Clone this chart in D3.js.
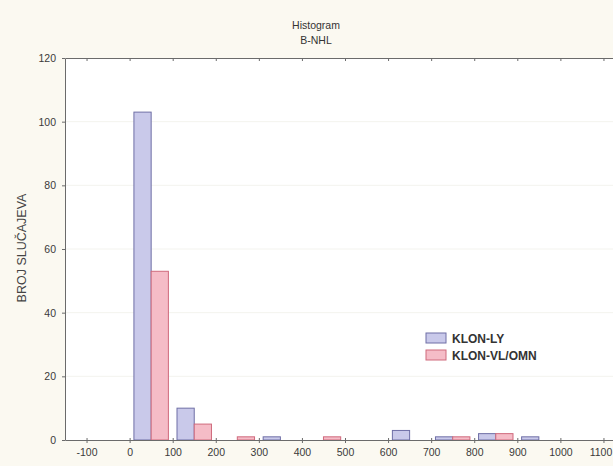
<!DOCTYPE html>
<html>
<head>
<meta charset="utf-8">
<script src="https://cdn.jsdelivr.net/npm/d3@7"></script>
<style>
  body { margin: 0; background: #fbf9f1; }
  text { font-family: "Liberation Sans", Arial, sans-serif; }
</style>
</head>
<body>
<div id="chart"></div>
<script>
// histogram bins (lower edge), width 100
var bins = [0, 100, 200, 300, 400, 500, 600, 700, 800, 900, 1000];
var klonLy = [103, 10, 0, 1, 0, 0, 3, 1, 2, 1, 0];
var klonVl = [53, 5, 1, 0, 1, 0, 0, 1, 2, 0, 0];
var xTicks = [-100, 0, 100, 200, 300, 400, 500, 600, 700, 800, 900, 1000, 1100];
var yTicks = [0, 20, 40, 60, 80, 100, 120];
var seriesNames = ["KLON-LY", "KLON-VL/OMN"];

var width = 613, height = 466;
var margin = {top: 58, right: -12, bottom: 26, left: 65};

var svg = d3.select("#chart").append("svg")
  .attr("width", width)
  .attr("height", height);

var x = d3.scaleLinear().domain([-150, 1150]).range([margin.left, width - margin.right]);
var y = d3.scaleLinear().domain([0, 120]).range([height - margin.bottom, margin.top]);

// plot background
svg.append("rect")
  .attr("x", x(-150)).attr("y", y(120))
  .attr("width", x(1150) - x(-150)).attr("height", y(0) - y(120))
  .attr("fill", "#ffffff");

// faint grid
svg.selectAll(".grid")
  .data(yTicks.filter(function(d) { return d > 0 && d < 120; }))
  .enter().append("line")
    .attr("x1", x(-150)).attr("x2", x(1150))
    .attr("y1", function(d) { return y(d); })
    .attr("y2", function(d) { return y(d); })
    .attr("stroke", "#f3f3ee").attr("stroke-width", 1);

// bars
var series = [
  {name: seriesNames[0], values: klonLy, off: 10, fill: "#c9c9ea", stroke: "#6f6fa6"},
  {name: seriesNames[1], values: klonVl, off: 50, fill: "#f5bcc7", stroke: "#cf6a7c"}
];
series.forEach(function(s) {
  svg.selectAll(null)
    .data(bins.map(function(b, i) { return {b: b, v: s.values[i]}; }).filter(function(d) { return d.v > 0; }))
    .enter().append("rect")
      .attr("x", function(d) { return x(d.b + s.off); })
      .attr("width", function(d) { return x(d.b + s.off + 40) - x(d.b + s.off); })
      .attr("y", function(d) { return y(d.v); })
      .attr("height", function(d) { return y(0) - y(d.v); })
      .attr("fill", s.fill)
      .attr("stroke", s.stroke)
      .attr("stroke-width", 1);
});

var axisColor = "#6b6b6b";
var fmt = function(d) { return d < 0 ? "-" + Math.abs(d) : String(d); };

// bottom axis
var xAxis = svg.append("g")
  .attr("transform", "translate(0," + y(0) + ")")
  .call(d3.axisBottom(x).tickValues(xTicks).tickSize(3).tickPadding(6).tickSizeOuter(0).tickFormat(fmt));
xAxis.select(".domain").attr("stroke", axisColor);
xAxis.selectAll(".tick line").attr("stroke", axisColor).attr("y1", -2);
xAxis.selectAll(".tick text").attr("fill", "#3a3a3a").style("font-size", "10.5px")
  .attr("dx", function(d) { return d === 1100 ? -3 : 0; });

// top axis (ticks only, pointing in)
var topAxis = svg.append("g")
  .attr("transform", "translate(0," + y(120) + ")")
  .call(d3.axisBottom(x).tickValues(xTicks).tickSize(3).tickSizeOuter(0).tickFormat(""));
topAxis.select(".domain").attr("stroke", axisColor);
topAxis.selectAll(".tick line").attr("stroke", axisColor);

// left axis
var yAxis = svg.append("g")
  .attr("transform", "translate(" + x(-150) + ",0)")
  .call(d3.axisLeft(y).tickValues(yTicks).tickSize(3).tickPadding(6).tickSizeOuter(0));
yAxis.select(".domain").attr("stroke", axisColor);
yAxis.selectAll(".tick line").attr("stroke", axisColor);
yAxis.selectAll(".tick text").attr("fill", "#3a3a3a").style("font-size", "10.5px");

// titles
svg.append("text")
  .attr("x", 316).attr("y", 29)
  .attr("text-anchor", "middle")
  .style("font-size", "10.5px").attr("fill", "#333")
  .text("Histogram");
svg.append("text")
  .attr("x", 316).attr("y", 44)
  .attr("text-anchor", "middle")
  .style("font-size", "10.5px").attr("fill", "#333")
  .text("B-NHL");

svg.append("text")
  .attr("transform", "translate(26," + 248 + ") rotate(-90)")
  .attr("text-anchor", "middle")
  .style("font-size", "12.5px").attr("fill", "#444")
  .text("BROJ SLUČAJEVA");

// legend
var legend = svg.append("g").attr("transform", "translate(426,333)");
series.forEach(function(s, i) {
  legend.append("rect")
    .attr("x", 0).attr("y", i * 17)
    .attr("width", 20).attr("height", 10)
    .attr("fill", s.fill).attr("stroke", s.stroke);
  legend.append("text")
    .attr("x", 26).attr("y", i * 17 + 9.5)
    .style("font-size", "12px").style("font-weight", "bold")
    .attr("fill", "#333")
    .text(s.name);
});
</script>
</body>
</html>
